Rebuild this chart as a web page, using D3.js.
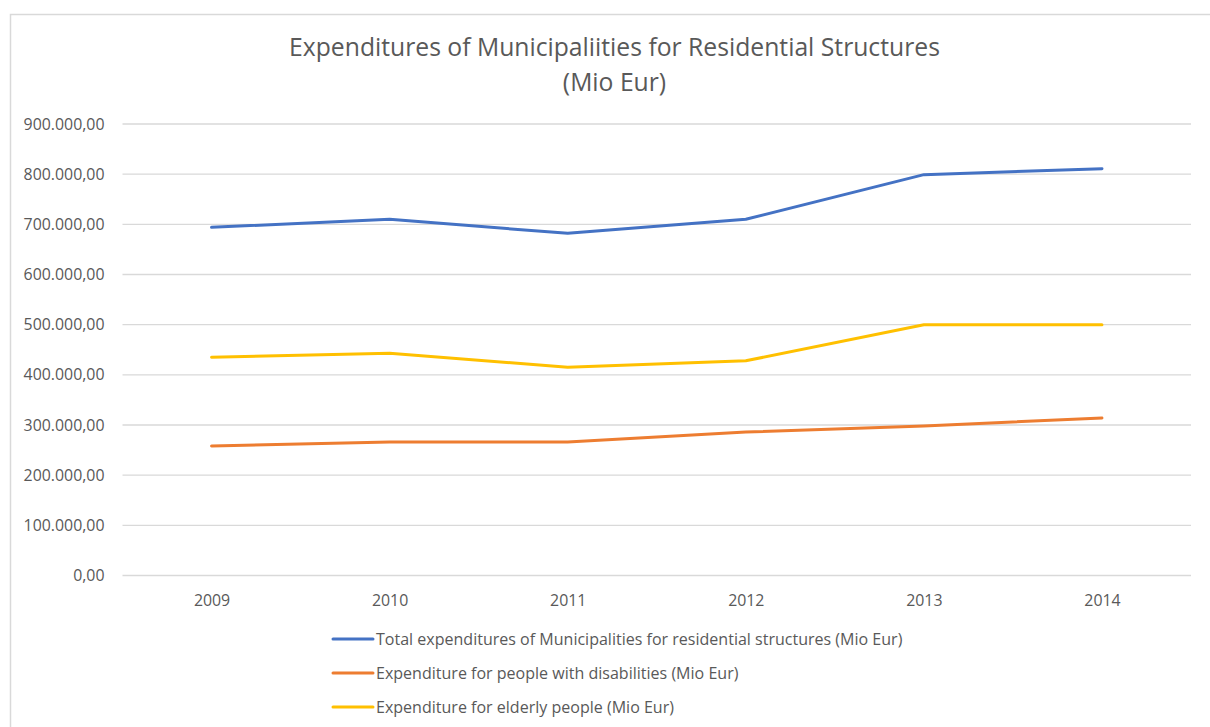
<!DOCTYPE html>
<html>
	<head>
		<meta charset="utf-8">
		<title>Expenditures of Municipalities for Residential Structures</title>
		<script src="https://cdn.jsdelivr.net/npm/d3@7"></script>
		<style>
			html, body
			{
				margin: 0;
				background: #fff;
				overflow: hidden;
			}

			text
			{
				font-family: "Open Sans", Lato, sans-serif;
				fill: #595959;
			}
		</style>
	</head>
	<body>
		<svg id="chart" width="1210" height="727"></svg>

		<script>
			// data
			let years = ["2009", "2010", "2011", "2012", "2013", "2014"];
			let totalValues = [693000, 709000, 681000, 709000, 798000, 810000];
			let disabilityValues = [257000, 265000, 265000, 285000, 297000, 313000];
			let elderlyValues = [434000, 442000, 414000, 427000, 499000, 499000];
			let yTicks = [0, 100000, 200000, 300000, 400000, 500000, 600000, 700000, 800000, 900000];

			let seriesNames = [
				"Total expenditures of Municipalities for residential structures (Mio Eur)",
				"Expenditure for people with disabilities (Mio Eur)",
				"Expenditure for elderly people (Mio Eur)"
			];
			let seriesColors = ["#4472C4", "#ED7D31", "#FFC000"];

			let series = [totalValues, disabilityValues, elderlyValues];
			// drawing order: blue, yellow, orange
			let drawOrder = [0, 2, 1];

			let svg = d3.select("#chart");

			let margin = {left: 122.5, right: 1191, top: 123.5, bottom: 575};

			let x = d3.scalePoint()
				.domain(years)
				.range([margin.left, margin.right])
				.padding(0.5);

			let y = d3.scaleLinear()
				.domain([0, 900000])
				.range([margin.bottom, margin.top]);

			// outer frame (only top and left edge are in the picture)
			svg.append("path")
				.attr("d", "M10.5,727 L10.5,14.5 L1210,14.5")
				.attr("fill", "none")
				.attr("stroke", "#d9d9d9")
				.attr("stroke-width", 1.5);

			// make a text fit a given width by adjusting font size
			function fitWidth(sel, width)
			{
				let node = sel.node();
				let size = parseFloat(sel.attr("font-size"));
				let w = node.getComputedTextLength();
				sel.attr("font-size", (size * width / w).toFixed(2));
			}

			// title
			let title1 = svg.append("text")
				.attr("x", 614.5)
				.attr("y", 56)
				.attr("text-anchor", "middle")
				.attr("font-size", 24)
				.text("Expenditures of Municipaliities for Residential Structures");
			fitWidth(title1, 651);

			svg.append("text")
				.attr("x", 614.5)
				.attr("y", 91)
				.attr("text-anchor", "middle")
				.attr("font-size", title1.attr("font-size"))
				.text("(Mio Eur)");

			// y axis with gridlines
			let fmt = d3.formatLocale({decimal: ",", thousands: ".", grouping: [3], currency: ["", "€"]}).format(",.2f");

			let yAxis = d3.axisLeft(y)
				.tickValues(yTicks)
				.tickSize(-(margin.right - margin.left))
				.tickPadding(18)
				.tickFormat(fmt);

			let gy = svg.append("g")
				.attr("transform", `translate(${margin.left},0)`)
				.call(yAxis);

			gy.select(".domain").remove();
			gy.selectAll(".tick line")
				.attr("stroke", "#d9d9d9")
				.attr("stroke-width", 1.4);
			gy.selectAll(".tick text")
				.attr("font-family", null)
				.attr("font-size", 14)
				.attr("fill", "#595959");

			let probe = gy.selectAll(".tick text").filter((d) => d == 900000);
			fitWidth(probe, 81);
			let tickSize = probe.attr("font-size");
			gy.selectAll(".tick text").attr("font-size", tickSize).attr("dy", "0.35em");

			// x axis
			let xAxis = d3.axisBottom(x)
				.tickSize(0)
				.tickPadding(20);

			let gx = svg.append("g")
				.attr("transform", `translate(0,${margin.bottom})`)
				.call(xAxis);

			gx.select(".domain").remove();
			gx.selectAll(".tick text")
				.attr("font-family", null)
				.attr("font-size", tickSize)
				.attr("fill", "#595959")
				.attr("dy", "0.71em");

			// lines
			let line = d3.line()
				.x((d, i) => x(years[i]))
				.y((d) => y(d));

			for (let k of drawOrder)
			{
				svg.append("path")
					.datum(series[k])
					.attr("d", line)
					.attr("fill", "none")
					.attr("stroke", seriesColors[k])
					.attr("stroke-width", 3)
					.attr("stroke-linejoin", "round")
					.attr("stroke-linecap", "round");
			}

			// legend
			let legend = svg.append("g");
			let legendTop = 639;
			let legendStep = 34;

			seriesNames.forEach((name, i) =>
			{
				let ly = legendTop + i * legendStep;

				legend.append("line")
					.attr("x1", 333)
					.attr("x2", 373)
					.attr("y1", ly)
					.attr("y2", ly)
					.attr("stroke", seriesColors[i])
					.attr("stroke-width", 3)
					.attr("stroke-linecap", "round");

				let t = legend.append("text")
					.attr("x", 376)
					.attr("y", ly)
					.attr("dy", "0.35em")
					.attr("font-size", 14)
					.text(name);

				if (i == 0)
					fitWidth(t, 527);
			});

			let legendSize = legend.select("text").attr("font-size");
			legend.selectAll("text").attr("font-size", legendSize);
		</script>
	</body>
</html>
